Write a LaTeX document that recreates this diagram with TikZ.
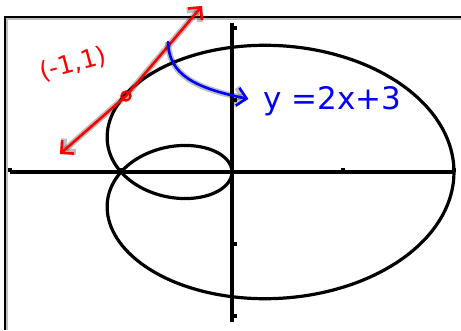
\documentclass[tikz,border=0pt]{standalone}
\usepackage{fontspec}
\newfontfamily\handfont{DejaVu Sans}
\usepackage{tikz}
\usetikzlibrary{arrows.meta}

\begin{document}
\begin{tikzpicture}[x=1pt,y=1pt,
        pen/.style={line width=2.6pt,line cap=round,line join=round,
            preaction={draw,line width=6pt,opacity=.25}},
        calcline/.style={line width=3.2pt},
        barb/.tip={Straight Barb[length=9pt,width=18pt]},
        hand/.style={font=\handfont\fontsize{#1}{#1}\selectfont}]
        \useasboundingbox (0,0) rectangle (461,330);
        % screen edge
        \draw[gray!50,line width=2pt] (7,0) -- (7,310.5) -- (461,310.5);
        \draw[line width=2pt] (5,0) -- (5,312.5) -- (461,312.5);

        % axes
        \coordinate (o) at (232,158);
        \draw[calcline] (10,158) -- (454,158);
        \draw[calcline] (232,8) -- (232,307);
        \begin{scope}[shift={(o)},x=111pt,y=72pt]
            \foreach \k in {-2,-1,1,2} {
                \draw[calcline] (\k,0) -- ++(0pt,4pt);
                \draw[calcline] (0,\k) -- ++(5pt,0pt);
            }
            % r = 1 + 2 cos t, moved to (-1,0)
            \draw[calcline] plot[domain=0:360,samples=240,smooth,variable=\t]
                ({-1+(1+2*cos(\t))*cos(\t)},{(1+2*cos(\t))*sin(\t)});
        \end{scope}

        % tangent line at (-1,1)
        \coordinate (tanA) at (60,176);
        \coordinate (tanB) at (202,324);
        \node[circle,draw=red,line width=2.4pt,minimum size=9pt,inner sep=0pt] (pt) at (126,234) {};
        \draw[pen,red,barb-barb] (tanA) -- (pt.center) -- (tanB);
        \node[hand=25,red,rotate=15,inner sep=0pt] (ptlbl) at (73,266) {(-1,1)};

        % equation
        \coordinate (tch) at (168,288);
        \node[hand=31,blue,anchor=base west,inner sep=1pt] (eq) at (262,220) {y =2x+3};
        \draw[pen,blue,-barb,shorten >=14pt] (tch) .. controls (169,255) and (195,242) .. (eq.west);
\end{tikzpicture}
\end{document}
